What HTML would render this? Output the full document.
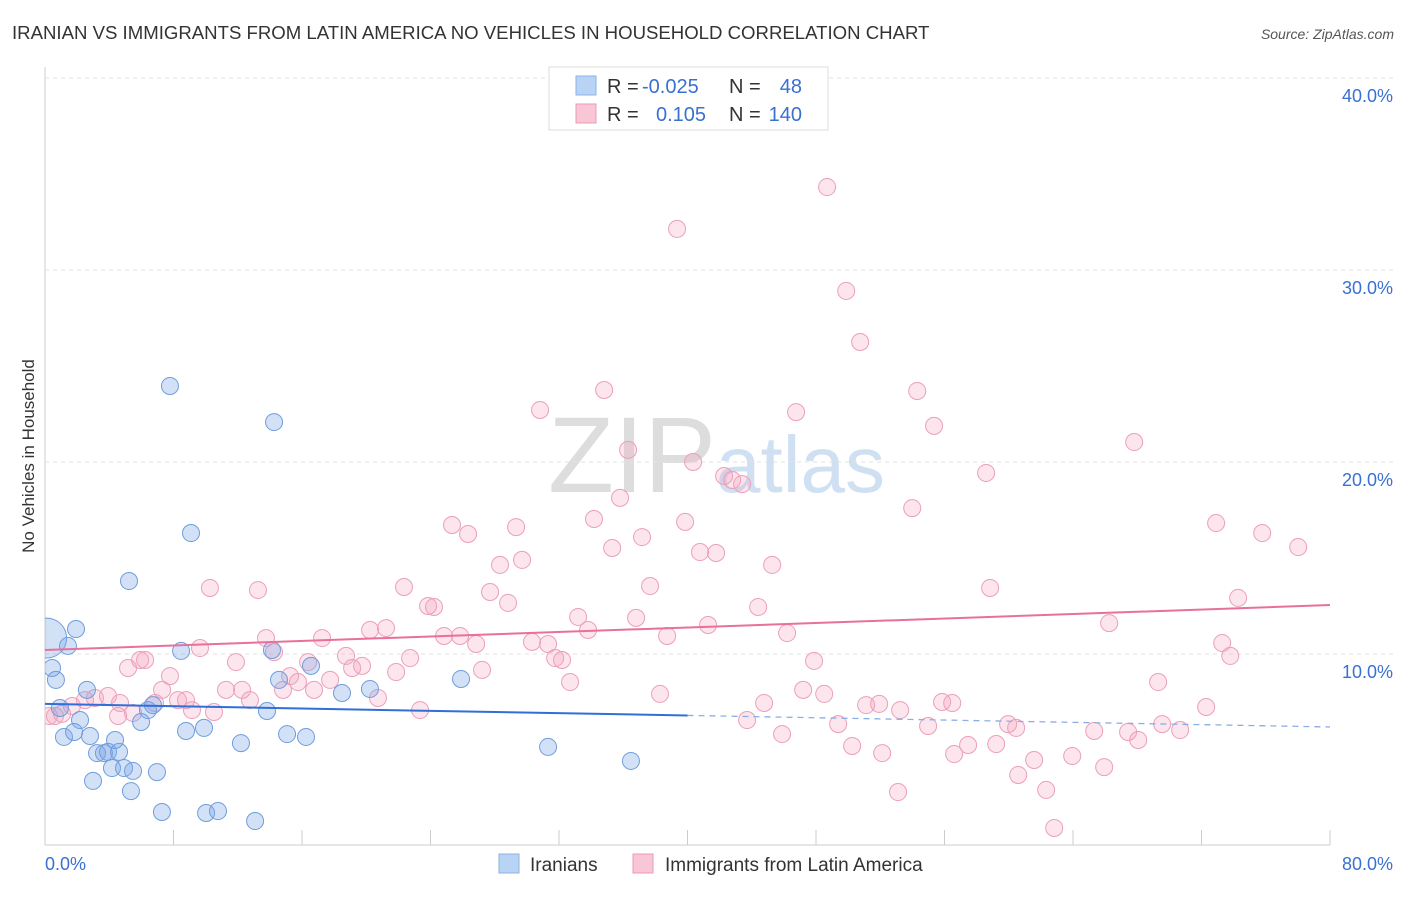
<!DOCTYPE html>
<html><head><meta charset="utf-8"><style>
body{margin:0;background:#fff;font-family:"Liberation Sans",sans-serif;}
svg text{font-family:"Liberation Sans",sans-serif;}
</style></head><body>
<svg id="chart" width="1406" height="892">
<defs><clipPath id="plotclip"><rect x="45" y="60" width="1361" height="786"/></clipPath></defs>
<text x="12" y="39" font-size="18.6" fill="#333">IRANIAN VS IMMIGRANTS FROM LATIN AMERICA NO VEHICLES IN HOUSEHOLD CORRELATION CHART</text>
<text x="1394" y="39" font-size="14" fill="#555" font-style="italic" text-anchor="end">Source: ZipAtlas.com</text>
<text transform="translate(34,456) rotate(-90)" font-size="17" fill="#333" text-anchor="middle">No Vehicles in Household</text>
<text x="716" y="492" font-size="108" font-family="Liberation Serif" fill="#ddd" text-anchor="end">ZIP</text>
<text x="716" y="492" font-size="80" fill="#cfe0f3">atlas</text>
<g id="grid"></g><g id="pts" clip-path="url(#plotclip)"></g><g id="trend"></g>
<g>
<rect x="549" y="67" width="279" height="63" fill="#fff" stroke="#ddd"/>
<rect x="576" y="76" width="20" height="19" fill="#b9d3f5" stroke="#8ab3e6"/>
<rect x="576" y="104" width="20" height="19" fill="#f9c6d6" stroke="#eb9ab6"/>
<text x="607" y="93" font-size="20" fill="#333">R =</text>
<text x="642" y="93" font-size="20" fill="#3a70d0">-0.025</text>
<text x="729" y="93" font-size="20" fill="#333">N =</text>
<text x="802" y="93" font-size="20" fill="#3a70d0" text-anchor="end">48</text>
<text x="607" y="121" font-size="20" fill="#333">R =</text>
<text x="656" y="121" font-size="20" fill="#3a70d0">0.105</text>
<text x="729" y="121" font-size="20" fill="#333">N =</text>
<text x="802" y="121" font-size="20" fill="#3a70d0" text-anchor="end">140</text>
</g>
<g>
<rect x="499" y="854" width="20" height="19" fill="#b9d3f5" stroke="#8ab3e6"/>
<text x="530" y="871" font-size="19" fill="#333">Iranians</text>
<rect x="633" y="854" width="20" height="19" fill="#f9c6d6" stroke="#eb9ab6"/>
<text x="665" y="871" font-size="19" fill="#333">Immigrants from Latin America</text>
</g>
<text x="45" y="870" font-size="18" fill="#3a70d0">0.0%</text>
<text x="1393" y="870" font-size="18" fill="#3a70d0" text-anchor="end">80.0%</text>
</svg>
<script>
const yTicks=[10,20,30,40];
const yTickLabels=["10.0%","20.0%","30.0%","40.0%"];
const xTicks=[0,8,16,24,32,40,48,56,64,72,80];
const blueX=[0.1,0.44,0.68,1.93,1.43,2.61,0.93,2.18,1.18,1.81,2.80,3.24,3.67,3.92,4.17,4.61,4.36,2.99,4.92,5.48,5.35,6.97,7.28,5.98,6.41,6.72,5.23,7.78,9.09,8.47,8.78,9.90,10.03,10.77,12.20,13.08,13.82,14.26,14.13,14.57,15.07,16.25,16.56,18.49,20.23,25.90,31.32,36.48];
const blueY=[10.83,9.27,8.65,11.30,10.42,8.13,7.19,6.56,5.68,5.94,5.73,4.84,4.84,4.90,4.06,4.90,5.52,3.39,4.06,3.91,2.86,3.85,1.77,6.46,7.08,7.34,13.80,23.96,16.30,10.16,5.99,6.15,1.72,1.82,5.36,1.30,7.03,22.08,10.21,8.65,5.83,5.68,9.38,7.97,8.18,8.70,5.16,4.43];
const pinkX=[0.62,1.06,1.68,2.49,3.11,3.92,4.67,5.48,4.55,5.17,5.92,6.23,6.85,7.29,7.78,8.28,8.78,9.15,9.65,10.27,10.52,11.27,11.89,12.27,12.76,13.26,13.76,14.26,14.82,15.26,15.75,16.38,16.75,17.25,17.75,18.74,19.12,19.74,20.24,20.73,21.23,21.86,22.35,22.73,23.35,23.85,24.22,24.84,25.34,25.84,26.34,26.84,27.21,27.71,28.33,28.83,29.33,29.70,30.32,30.82,31.32,31.76,32.19,32.69,33.19,33.81,34.18,34.81,35.31,35.80,36.30,36.80,37.17,37.67,38.29,38.73,39.35,39.85,40.35,40.78,41.28,41.78,42.28,42.78,43.40,43.71,44.40,44.77,45.27,45.89,46.20,46.76,47.20,47.88,48.51,48.69,49.38,49.88,50.25,50.75,51.12,52.12,51.93,53.11,53.24,53.99,54.30,54.98,55.35,55.85,56.60,56.48,57.47,58.59,58.84,59.22,59.96,60.46,60.59,61.58,62.33,62.83,63.95,65.32,65.94,66.25,67.43,67.81,68.06,69.30,69.55,70.67,72.29,72.91,73.29,73.79,74.28,75.78,78.02,0.25];
const pinkY=[6.77,6.88,7.29,7.60,7.71,7.81,7.45,6.93,6.77,9.27,9.69,9.69,7.45,8.13,8.85,7.60,7.60,7.08,10.31,13.44,6.98,8.13,9.58,8.13,7.60,13.33,10.83,10.10,8.13,8.85,8.54,9.58,8.13,10.83,8.65,9.90,9.27,9.38,11.25,7.71,11.35,9.06,13.49,9.79,7.08,12.50,12.45,10.94,16.72,10.94,16.25,10.52,9.17,13.23,14.64,12.66,16.61,14.90,10.63,22.71,10.52,9.79,9.69,8.54,11.93,11.25,17.03,23.75,15.52,18.13,20.63,11.88,16.09,13.54,7.92,10.94,32.14,16.88,20.00,15.31,11.51,15.26,19.27,19.06,18.85,6.56,12.45,7.45,14.64,5.83,11.09,22.60,8.13,9.64,7.92,34.32,6.35,28.91,5.21,26.25,7.34,4.84,7.40,2.81,7.08,17.60,23.70,6.25,21.88,7.50,4.79,7.45,5.26,19.43,13.44,5.31,6.35,6.15,3.70,4.48,2.92,0.94,4.69,5.99,4.11,11.61,5.94,21.04,5.52,8.54,6.35,6.04,7.24,16.82,10.57,9.90,12.92,16.30,15.57,6.77];
const blueTrend=[7.40,6.20];
const pinkTrend=[10.21,12.55];
const NS="http://www.w3.org/2000/svg";
const X=v=>45+v/80*1285;
const Y=v=>846-v*19.2;
function mk(t,a,p){const e=document.createElementNS(NS,t);for(const k in a)e.setAttribute(k,a[k]);p.appendChild(e);return e;}
const grid=document.getElementById('grid');
let ax=mk('line',{x1:45,y1:845,x2:1330,y2:845,stroke:'#ccc'},grid);


let ay=mk('line',{x1:45,y1:67,x2:45,y2:845,stroke:'#ccc'},grid);


yTicks.forEach((t,i)=>{
 const g=mk('line',{x1:45,y1:Y(t),x2:1393,y2:Y(t),stroke:'#e2e2e2','stroke-dasharray':'4,4'},grid);
 
 
 const l=mk('text',{x:1393,y:Y(t)+24,'font-size':18,fill:'#3a70d0','text-anchor':'end'},grid);
 l.textContent=yTickLabels[i];
 
 
});
xTicks.forEach(t=>{
 const tk=mk('line',{x1:X(t),y1:830,x2:X(t),y2:845,stroke:'#ccc'},grid);
 
 
});
const pts=document.getElementById('pts');
pinkX.forEach((x,i)=>{
 const c=mk('circle',{cx:X(x),cy:Y(pinkY[i]),r:8.5,fill:'rgba(244,160,188,0.28)',stroke:'#ec9fba','stroke-width':1},pts);
 
 
});
blueX.forEach((x,i)=>{
 const c=mk('circle',{cx:X(x),cy:Y(blueY[i]),r:i===0?20:8.5,fill:'rgba(120,165,230,0.33)',stroke:'#6f9ddd','stroke-width':1},pts);
 
 
});
const tr=document.getElementById('trend');
const bm=blueTrend[0]+(blueTrend[1]-blueTrend[0])*0.5;
let b1=mk('line',{x1:X(0),y1:Y(blueTrend[0]),x2:X(40),y2:Y(bm),stroke:'#2f6fd6','stroke-width':2},tr);


let b2=mk('line',{x1:X(40),y1:Y(bm),x2:X(80),y2:Y(blueTrend[1]),stroke:'#8aaee6','stroke-width':1.3,'stroke-dasharray':'6,5'},tr);


let p1=mk('line',{x1:X(0),y1:Y(pinkTrend[0]),x2:X(80),y2:Y(pinkTrend[1]),stroke:'#e8709a','stroke-width':2},tr);


</script>
</body></html>
